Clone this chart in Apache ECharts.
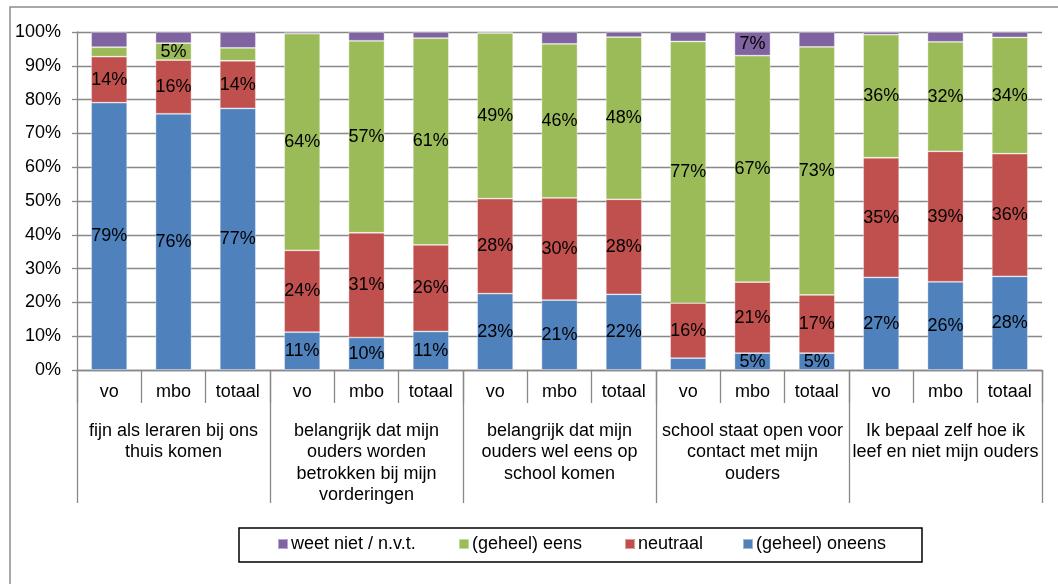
<!DOCTYPE html>
<html>
<head>
<meta charset="utf-8">
<script src="https://cdn.jsdelivr.net/npm/echarts@6/dist/echarts.min.js"></script>
<style>html,body{margin:0;padding:0;background:#fff;}#c{width:1058px;height:584px;}</style>
</head>
<body>
<div id="c"></div>
<script>
// Data
const subCategories = ['vo','mbo','totaal','vo','mbo','totaal','vo','mbo','totaal','vo','mbo','totaal','vo','mbo','totaal'];
const groups = [
  'fijn als leraren bij ons\nthuis komen',
  'belangrijk dat mijn\nouders worden\nbetrokken bij mijn\nvorderingen',
  'belangrijk dat mijn\nouders wel eens op\nschool komen',
  'school staat open voor\ncontact met mijn\nouders',
  'Ik bepaal zelf hoe ik\nleef en niet mijn ouders'
];
const oneens   = [79.1, 75.8, 77.4, 11.2,  9.6, 11.4, 22.6, 20.7, 22.4,  3.5,  5.0,  5.0, 27.4, 26.1, 27.7];
const neutraal = [13.6, 15.9, 14.1, 24.2, 31.0, 25.6, 28.1, 30.2, 28.1, 16.3, 21.0, 17.2, 35.4, 38.6, 36.3];
const eens     = [ 2.8,  5.0,  3.8, 64.1, 56.8, 61.2, 49.0, 45.6, 48.0, 77.4, 67.0, 73.4, 36.4, 32.4, 34.4];
const weetNiet = [ 4.5,  3.3,  4.7,  0.5,  2.6,  1.8,  0.3,  3.5,  1.5,  2.8,  7.0,  4.4,  0.8,  2.9,  1.6];
const yTicks = [0,10,20,30,40,50,60,70,80,90,100];

const FONT = 'Liberation Sans';
const FS = 18;
const gridCol = '#888888';

const chart = echarts.init(document.getElementById('c'), null, {renderer:'canvas'});
const lbl = {
  show: true, position: 'inside', color: '#000', fontFamily: FONT, fontSize: FS,
  formatter: p => p.value >= 4.95 ? Math.round(p.value) + '%' : ''
};
function mk(name, data, color){
  return {
    name, type:'bar', stack:'s', data, barCategoryGap:'44%',
    itemStyle:{color, borderColor:'rgba(255,255,255,0.45)', borderWidth:0.8},
    label: lbl, emphasis:{disabled:true}
  };
}
const legendNames = ['weet niet / n.v.t.','(geheel) eens','neutraal','(geheel) oneens'];
const legendLefts = [277, 458, 624, 742];
chart.setOption({
  animation:false,
  color:['#4f81bd','#c0504d','#9bbb59','#8064a2'],
  textStyle:{fontFamily:FONT},
  grid:{left:77, right:16, top:32, bottom:214, containLabel:false},
  legend: legendNames.map((n,i)=>({
    data:[n], left:legendLefts[i], top:535, itemWidth:10, itemHeight:10, itemGap:0,
    icon:'rect', padding:0,
    textStyle:{fontFamily:FONT, fontSize:FS, color:'#000', padding:[0,0,0,-2]},
    selectedMode:false
  })),
  graphic:[
    {type:'rect', shape:{x:10, y:7, width:1100, height:700}, style:{fill:'none', stroke:'#8c8c8c', lineWidth:1.5}, silent:true},
    {type:'rect', shape:{x:239, y:528, width:683, height:34}, style:{fill:'none', stroke:'#000', lineWidth:1.5}, silent:true}
  ],
  xAxis:[
    {type:'category', data:subCategories, position:'bottom',
     axisLine:{show:true, lineStyle:{color:gridCol, width:1.3}},
     axisTick:{show:true, interval:0, length:33, lineStyle:{color:gridCol, width:1.3}},
     axisLabel:{interval:0, margin:13, color:'#000', fontFamily:FONT, fontSize:FS}},
    {type:'category', data:groups, position:'bottom', offset:0,
     axisLine:{show:false},
     axisTick:{show:true, interval:0, length:133, lineStyle:{color:gridCol, width:1.3}},
     axisLabel:{interval:0, margin:50, color:'#000', fontFamily:FONT, fontSize:FS, lineHeight:21.5, verticalAlign:'top'}}
  ],
  yAxis:{type:'value', min:0, max:100, interval:10,
    axisLine:{show:true, lineStyle:{color:gridCol, width:1.3}},
    axisTick:{show:true, length:5, lineStyle:{color:gridCol, width:1.3}},
    splitLine:{show:true, lineStyle:{color:gridCol, width:1.3}},
    axisLabel:{margin:16, color:'#000', fontFamily:FONT, fontSize:FS,
      formatter: v => yTicks.includes(v) ? v + '%' : ''}},
  series:[
    mk('(geheel) oneens', oneens, '#4f81bd'),
    mk('neutraal', neutraal, '#c0504d'),
    mk('(geheel) eens', eens, '#9bbb59'),
    mk('weet niet / n.v.t.', weetNiet, '#8064a2')
  ]
});
</script>
</body>
</html>
